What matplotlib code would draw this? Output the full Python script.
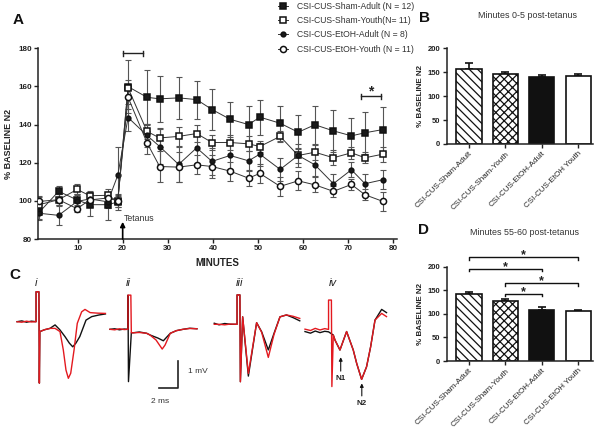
import numpy as np
import matplotlib.pyplot as plt
from matplotlib.lines import Line2D

plt.rcParams['font.family'] = ['Liberation Sans', 'DejaVu Sans']
plt.rcParams['hatch.linewidth'] = 0.9
plt.rcParams['hatch.color'] = '#111111'

W, H = 602, 429
TXT = '#222222'

# ---- panel A: time course (% baseline N2) ----
minutes = [1.5, 5.8, 9.9, 12.7, 16.7, 18.9, 21.2, 25.4, 28.2, 32.4, 36.4, 39.8,
           43.8, 47.9, 50.4, 54.9, 58.9, 62.6, 66.7, 70.7, 73.7, 77.7]
sham_adult = [94, 105, 100.5, 98, 98, 99.4, 159.9, 154.3, 153.5, 154, 153.1, 147.9,
              142.8, 140, 143.9, 140.7, 136, 139.9, 136.7, 134.1, 135.7, 137.4]
sham_adult_sem = [4, 3, 3, 6, 8, 4, 14, 14.5, 12, 11, 10, 10.5,
                  9.3, 9.5, 9.2, 9.3, 9, 10, 11, 9.5, 11, 12]
sham_youth = [98, 100.6, 106, 102.7, 102.9, 99.7, 159.2, 136.4, 133, 133.8, 135.3, 130.6,
              130.6, 129.9, 128.5, 133.8, 123.8, 125.5, 122.6, 125.2, 122.6, 124.5]
sham_youth_sem = [4, 3, 3, 2, 2, 3, 4, 4, 5, 4.8, 4.5, 4,
                  4, 4, 3, 3, 4, 4, 4, 3, 3, 4]
etoh_adult = [93.5, 92.4, 99.7, 101, 99.5, 113.3, 143.7, 134.3, 128.5, 119.1, 127.8, 120.7,
              123.8, 121, 124.5, 116.5, 123.8, 118.9, 109, 116.3, 109, 111.1]
etoh_adult_sem = [3, 5, 4, 4, 3, 15, 7, 6, 9, 9, 8, 7,
                  7, 5, 6, 6, 6, 6, 5, 4, 5, 5]
etoh_youth = [99.7, 100.6, 95.9, 100.5, 101.5, 100, 154.3, 130.4, 118, 117.7, 118.9, 118,
              115.6, 111.9, 114.4, 107.6, 110.5, 108.4, 105, 108.6, 103.2, 99.7]
etoh_youth_sem = [3, 3, 2, 3, 3, 3, 6, 6, 8, 8, 5, 6,
                  5, 4, 5, 5, 5, 4, 3, 3, 3, 5]
legend_labels = ['CSI-CUS-Sham-Adult (N = 12)', 'CSI-CUS-Sham-Youth(N= 11)',
                 'CSI-CUS-EtOH-Adult (N = 8)', 'CSI-CUS-EtOH-Youth (N = 11)']

# ---- panels B and D: bar summaries ----
groups = ['CSI-CUS-Sham-Adult', 'CSI-CUS-Sham-Youth', 'CSI-CUS-EtOH-Adult', 'CSI-CUS-EtOH Youth']
b_mean = [157, 147, 139, 142]
b_sem = [12.5, 4.5, 5, 4.5]
d_mean = [143, 127, 109, 106]
d_sem = [3, 5, 5, 3]
d_pairs = [(0, 3), (0, 2), (1, 3), (1, 2)]
d_bracket_y = [221, 196, 166, 143]

# ---- panel C: example field potentials (ms, mV relative to stimulus / baseline) ----
tr_i_t_blk = [-2.1, -1.6, -1.1, -0.6, -0.1, -0.1, 0.2, 0.25, 0.3, 0.8, 1.37, 1.9, 2.4, 2.95, 3.4,
              3.76, 4.1, 4.5, 5.16, 5.76, 6.5, 7.2]
tr_i_v_blk = [0, 0.03, -0.02, 0.02, 0, 1.12, 1.12, -2.3, -0.37, -0.3, -0.25, -0.12, -0.3, -0.56,
              -0.8, -0.94, -0.8, -0.56, 0.06, 0.19, 0.25, 0.29]
tr_i_t_red = [-2.1, -1.6, -1.1, -0.6, -0.1, -0.1, 0.2, 0.25, 0.3, 0.8, 1.37, 1.9, 2.42, 2.77, 3.05,
              3.3, 3.55, 3.9, 4.24, 4.7, 5.05, 5.6, 6.4, 7.2]
tr_i_v_red = [0, -0.02, 0.02, -0.01, 0, 1.12, 1.12, -2.3, -0.37, -0.3, -0.25, -0.25, -0.37, -1.06,
              -1.81, -2.12, -1.93, -1.06, -0.06, 0.37, 0.46, 0.34, 0.32, 0.31]

tr_ii_t_blk = [-1.9, -1.4, -0.9, -0.4, 0, 0, 0.05, 0.35, 0.56, 1.2, 1.97, 2.3, 3.16, 3.72,
               4.45, 5.1, 5.8, 6.5, 7.26]
tr_ii_v_blk = [0, 0.02, -0.02, 0.01, 0, 1.28, -1.96, -0.13, -0.13, -0.1, -0.15, -0.21, -0.33, -0.43,
               -0.15, -0.05, 0, 0.04, 0.02]
tr_ii_t_red = [-1.9, -1.4, -0.9, -0.4, 0, 0, 0.3, 0.35, 0.56, 1.2, 1.97, 2.3, 2.95, 3.6, 3.9,
               4.45, 5.1, 5.8, 6.5, 7.26]
tr_ii_v_red = [0, -0.02, 0.02, -0.01, 0, 1.28, 1.28, -0.13, -0.13, -0.12, -0.15, -0.21, -0.4, -0.74,
               -0.59, -0.15, -0.05, 0, 0.03, 0.02]

tr_iii_t_blk = [-2.5, -2.0, -1.4, -0.8, -0.1, -0.1, 0.2, 0.25, 0.49, 1.09, 1.96, 2.49, 3.19,
                3.79, 4.42, 5.1, 5.8, 6.5]
tr_iii_v_blk = [0.04, -0.02, 0.03, 0.0, 0, 1.1, 1.1, -2.15, 0.28, -1.94, 0.06, -0.28, -0.96,
                -0.34, 0.28, 0.35, 0.25, 0.13]
tr_iii_t_red = [-2.5, -2.0, -1.4, -0.8, -0.1, -0.1, 0.2, 0.25, 0.49, 1.09, 1.96, 2.49, 3.19,
                3.79, 4.42, 5.1, 5.8, 6.5]
tr_iii_v_red = [0, 0.0, -0.02, 0.01, 0, 1.1, 1.1, -2.15, 0.28, -1.84, 0.06, -0.3, -1.24,
                -0.38, 0.28, 0.35, 0.3, 0.22]

tr_iv_t_blk = [-2.58, -2.0, -1.5, -1.0, -0.5, -0.1, 0.4, 0.58, 1.1, 1.8, 2.5, 2.86, 3.38, 3.9,
               4.33, 4.79, 5.49, 6.0]
tr_iv_v_blk = [-0.04, -0.1, -0.02, -0.08, -0.03, -0.05, -0.17, -0.36, -0.73, -0.04, -0.73, -1.23,
               -1.83, -1.36, -0.61, 0.39, 0.79, 0.67]
tr_iv_t_red = [-2.58, -2.0, -1.5, -1.0, -0.5, -0.1, -0.1, 0.2, 0.25, 0.4, 0.58, 1.1, 1.8, 2.5,
               2.86, 3.38, 3.9, 4.33, 4.79, 5.49, 6.0]
tr_iv_v_red = [0.05, 0.0, 0.08, 0.02, 0.07, 0.04, 1.14, 1.14, -2.1, -0.17, -0.36, -0.73, -0.04,
               -0.73, -1.23, -1.83, -1.36, -0.61, 0.39, 0.64, 0.52]

fig = plt.figure(figsize=(W / 100, H / 100), dpi=100)


def px_axes(left, top, right, bottom):
    return fig.add_axes([left / W, 1 - bottom / H, (right - left) / W, (bottom - top) / H])


def prism_style(ax):
    for s in ['top', 'right']:
        ax.spines[s].set_visible(False)
    for s in ['left', 'bottom']:
        ax.spines[s].set_linewidth(1.1)
        ax.spines[s].set_color('#222222')
    ax.tick_params(length=3, width=1, color='#222222', labelcolor=TXT, pad=1.5)


# ---------------- A ----------------
axA = px_axes(38.3, 48.3, 397, 239)
prism_style(axA)
styles = [('s', '#1a1a1a', 4.0), ('s', 'white', 4.4), ('o', '#1a1a1a', 3.4), ('o', 'white', 4.4)]
all_vals = [sham_adult, sham_youth, etoh_adult, etoh_youth]
all_sem = [sham_adult_sem, sham_youth_sem, etoh_adult_sem, etoh_youth_sem]
handles = []
for k, (vals, sem, (mk, fc, ms)) in enumerate(zip(all_vals, all_sem, styles)):
    axA.errorbar(minutes, vals, yerr=sem, fmt='none', ecolor='#555555', elinewidth=0.8,
                 capsize=2, capthick=0.8, zorder=2)
    axA.plot(minutes, vals, '-', color='#333333', lw=0.7, marker=mk, ms=ms, mfc=fc,
             mec='#111111', mew=1.1, zorder=3 + k)
    handles.append(Line2D([], [], color='#333333', lw=0.7, marker=mk, ms=ms, mfc=fc,
                          mec='#111111', mew=1.1))
axA.set_xlim(1.3, 80.8)
axA.set_ylim(80, 180)
axA.set_xticks(range(10, 81, 10))
axA.set_yticks(range(80, 181, 20))
for lab in axA.get_xticklabels() + axA.get_yticklabels():
    lab.set_fontsize(5.8)
    lab.set_fontweight('bold')
axA.set_xlabel('MINUTES', fontsize=7, fontweight='bold', color=TXT, labelpad=4)
axA.set_ylabel('% BASELINE N2', fontsize=6.5, fontweight='bold', color=TXT, labelpad=4)

# brackets and tetanus marker
for x0, x1, y in [(20.1, 24.6, 177.4), (72.8, 77.2, 154.9)]:
    axA.plot([x0, x1], [y, y], color='#222222', lw=1, clip_on=False)
    for xe in (x0, x1):
        axA.plot([xe, xe], [y - 1.3, y + 1.3], color='#222222', lw=1, clip_on=False)
axA.text(75.0, 157.5, '*', fontsize=10, fontweight='bold', ha='center', va='center', color=TXT)
axA.annotate('', xy=(20, 89), xytext=(20, 80),
             arrowprops=dict(arrowstyle='-|>', color='black', lw=1.2, mutation_scale=7,
                             shrinkA=0, shrinkB=0))
axA.text(20.3, 90.5, 'Tetanus', fontsize=6.3, color='#333333', ha='left', va='center')

fig.legend(handles, legend_labels, loc='upper left', bbox_to_anchor=(276 / W, 1 - 0 / H),
           frameon=False, fontsize=6.2, handlelength=1.2, handletextpad=1.0,
           labelspacing=0.62, borderaxespad=0, borderpad=0.2, labelcolor='#333333')


# ---------------- B and D ----------------
def bar_panel(ax, means, sems):
    prism_style(ax)
    xs = np.arange(len(groups))
    hatches = ['\\\\\\\\', 'xxxx', '', '']
    faces = ['white', 'white', '#111111', 'white']
    for x, m, s, h, f in zip(xs, means, sems, hatches, faces):
        ax.errorbar([x], [m], yerr=[[0], [s]], fmt='none', ecolor='#111111', elinewidth=1.2,
                    capsize=3.2, capthick=1.2, zorder=1)
        ax.bar(x, m, width=0.69, color=f, edgecolor='#111111', linewidth=1.2, hatch=h, zorder=2)
    ax.set_xlim(-0.614, 3.41)
    ax.set_ylim(0, 200)
    ax.set_yticks([0, 50, 100, 150, 200])
    ax.set_xticks(xs)
    ax.set_xticklabels(groups, rotation=45, ha='right', rotation_mode='anchor', fontsize=5.8)
    for lab in ax.get_yticklabels():
        lab.set_fontsize(5.5)
        lab.set_fontweight('bold')
    ax.set_ylabel('% BASELINE N2', fontsize=5.8, fontweight='bold', color=TXT, labelpad=3)


axB = px_axes(446.7, 48.3, 593, 144)
bar_panel(axB, b_mean, b_sem)
axD = px_axes(446.7, 266.7, 593, 361)
bar_panel(axD, d_mean, d_sem)
for (a, b), y in zip(d_pairs, d_bracket_y):
    axD.plot([a, a, b, b], [y - 6, y, y, y - 6], color='#111111', lw=1, clip_on=False)
    axD.text((a + b) / 2, y + 4, '*', fontsize=9, fontweight='bold', ha='center', va='center',
             color=TXT)

fig.text(528 / W, 1 - 15 / H, 'Minutes 0-5 post-tetanus', fontsize=6.4, color='#333333',
         ha='center', va='center')
fig.text(524 / W, 1 - 232.7 / H, 'Minutes 55-60 post-tetanus', fontsize=6.4, color='#333333',
         ha='center', va='center')

# ---------------- C ----------------
PX_MS, PX_MV = 9.5, 26.7
traces = [
    (37.0, 321.7, tr_i_t_blk, tr_i_v_blk, tr_i_t_red, tr_i_v_red),
    (128.0, 329.3, tr_ii_t_blk, tr_ii_v_blk, tr_ii_t_red, tr_ii_v_red),
    (238.0, 324.3, tr_iii_t_blk, tr_iii_v_blk, tr_iii_t_red, tr_iii_v_red),
    (329.5, 330.5, tr_iv_t_blk, tr_iv_v_blk, tr_iv_t_red, tr_iv_v_red),
]
c_axes = []
for sx, by, tb, vb, trd, vr in traces:
    ax = px_axes(sx - 2.5 * PX_MS, by - 1.5 * PX_MV, sx + 7.5 * PX_MS, by + 3.0 * PX_MV)
    ax.set_xlim(-2.5, 7.5)
    ax.set_ylim(-3.0, 1.5)
    ax.axis('off')
    ax.plot(tb, vb, color='#111111', lw=1.0, clip_on=False)
    ax.plot(trd, vr, color='#e3191f', lw=1.0, clip_on=False)
    c_axes.append(ax)

# scale bar (2 ms, 1 mV) in trace ii axes
axii = c_axes[1]
axii.plot([3.3, 5.3, 5.3], [-2.2, -2.2, -1.2], color='#222222', lw=1.2)
axii.text(6.3, -1.59, '1 mV', fontsize=6, color='#333333', ha='left', va='center')
axii.text(3.4, -2.71, '2 ms', fontsize=6, color='#333333', ha='center', va='center')

# N1 / N2 markers on trace iv
axiv = c_axes[3]
axiv.annotate('', xy=(1.18, -1.0), xytext=(1.18, -1.52),
              arrowprops=dict(arrowstyle='-|>', color='#111111', lw=0.8, mutation_scale=5,
                              shrinkA=0, shrinkB=0))
axiv.text(1.18, -1.78, 'N1', fontsize=5.8, fontweight='bold', ha='center', va='center', color=TXT)
axiv.annotate('', xy=(3.4, -1.98), xytext=(3.4, -2.45),
              arrowprops=dict(arrowstyle='-|>', color='#111111', lw=0.8, mutation_scale=5,
                              shrinkA=0, shrinkB=0))
axiv.text(3.4, -2.72, 'N2', fontsize=5.8, fontweight='bold', ha='center', va='center', color=TXT)

for lab, x in zip(['i', 'ii', 'iii', 'iv'], [36, 128, 240, 333.3]):
    fig.text(x / W, 1 - 283.5 / H, lab, fontsize=8, style='italic', ha='center', va='center',
             color=TXT)

# panel letters
for lab, x, y in [('A', 18, 20), ('B', 425, 18), ('C', 15, 275), ('D', 424, 230)]:
    fig.text(x / W, 1 - y / H, lab, fontsize=11, fontweight='bold', ha='center', va='center',
             color='#111111')

fig.savefig('out.png', dpi=100)
